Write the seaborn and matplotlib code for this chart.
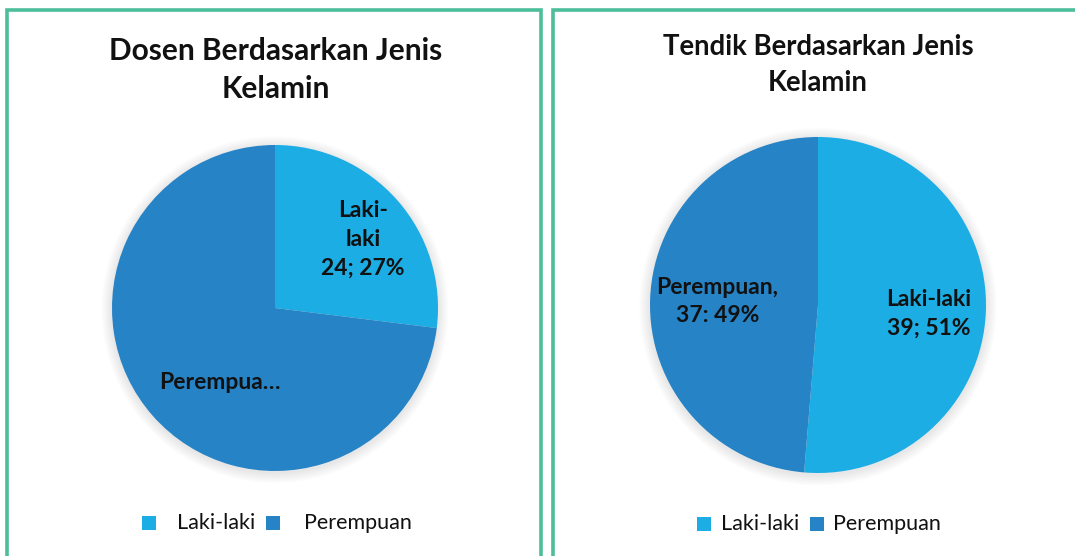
import matplotlib
matplotlib.use("Agg")
import matplotlib.pyplot as plt
from matplotlib.patches import Rectangle, Circle
import seaborn as sns

sns.set_theme(style="white")
plt.rcParams['font.family'] = ['Lato', 'DejaVu Sans']

# ---- data ----
categories = ["Laki-laki", "Perempuan"]
dosen_values = [24, 65]
tendik_values = [39, 37]
dosen_title = "Dosen Berdasarkan Jenis\nKelamin"
tendik_title = "Tendik Berdasarkan Jenis\nKelamin"
dosen_labels = ["Laki-\nlaki\n24; 27%", "Perempua…"]
tendik_labels = ["Laki-laki\n39; 51%", "Perempuan,\n37: 49%"]

colors = ["#1CADE4", "#2683C6"]
border_color = "#4DBE9A"

W, H = 1075, 556
fig = plt.figure(figsize=(W / 100, H / 100), dpi=100)
fig.patch.set_facecolor("white")

# panel borders
for x0, x1 in [(7, 541), (553, 1090)]:
    fig.patches.append(Rectangle((x0 / W, -0.05), (x1 - x0) / W, (H - 10) / H + 0.05,
                                 transform=fig.transFigure, fill=False,
                                 edgecolor=border_color, linewidth=2.6))


def pie_axes(cx, cy, r):
    pad = 1.1
    rr = r * pad
    ax = fig.add_axes([(cx - rr) / W, (H - cy - rr) / H, 2 * rr / W, 2 * rr / H])
    ax.set_xlim(-pad, pad)
    ax.set_ylim(-pad, pad)
    ax.set_aspect("equal")
    ax.axis("off")
    return ax


def draw_pie(ax, values, labels, label_pos, label_ha):
    # soft shadow
    for i in range(8):
        ax.add_patch(Circle((0, -0.01), 1.0 + 0.008 * (i + 1), color="black",
                            alpha=0.012, lw=0, zorder=0))
    ax.pie(values, colors=colors, startangle=90, counterclock=False,
           radius=1.0, wedgeprops=dict(linewidth=0, edgecolor="none"))
    ax.set_xlim(-1.1, 1.1)
    ax.set_ylim(-1.1, 1.1)
    for lab, (x, y), ha in zip(labels, label_pos, label_ha):
        ax.text(x, y, lab, ha=ha, va="center", fontsize=16.5, fontweight="bold",
                color="#111111", linespacing=1.45, multialignment=ha)


# left pie
ax1 = pie_axes(275, 308, 163)
draw_pie(ax1, dosen_values, dosen_labels,
         [(0.54, 0.42), (-0.34, -0.46)], ["center", "center"])

# right pie
ax2 = pie_axes(818, 305, 168)
draw_pie(ax2, tendik_values, tendik_labels,
         [(0.91, -0.05), (-0.60, 0.02)], ["right", "center"])

# titles
fig.text(276 / W, 1 - 70 / H, dosen_title, ha="center", va="center",
         fontsize=21.5, fontweight="bold", color="#111111", linespacing=1.45)
fig.text(818 / W, 1 - 65 / H, tendik_title, ha="center", va="center",
         fontsize=19.8, fontweight="bold", color="#111111", linespacing=1.45)


# legends
def legend_row(items, y, fs):
    for kind, x, val in items:
        if kind == "sq":
            fig.patches.append(Rectangle((x / W, 1 - (y + 7) / H), 14 / W, 14 / H,
                                         transform=fig.transFigure, color=val, lw=0))
        else:
            fig.text(x / W, 1 - y / H, val, ha="left", va="center",
                     fontsize=fs, color="#111111")


legend_row([("sq", 142, colors[0]), ("tx", 177, categories[0]),
            ("sq", 266, colors[1]), ("tx", 304, categories[1])], 523, 15.5)
legend_row([("sq", 697, colors[0]), ("tx", 721, categories[0]),
            ("sq", 810, colors[1]), ("tx", 833, categories[1])], 524, 15.5)

fig.savefig("out.png", dpi=100, facecolor="white")
